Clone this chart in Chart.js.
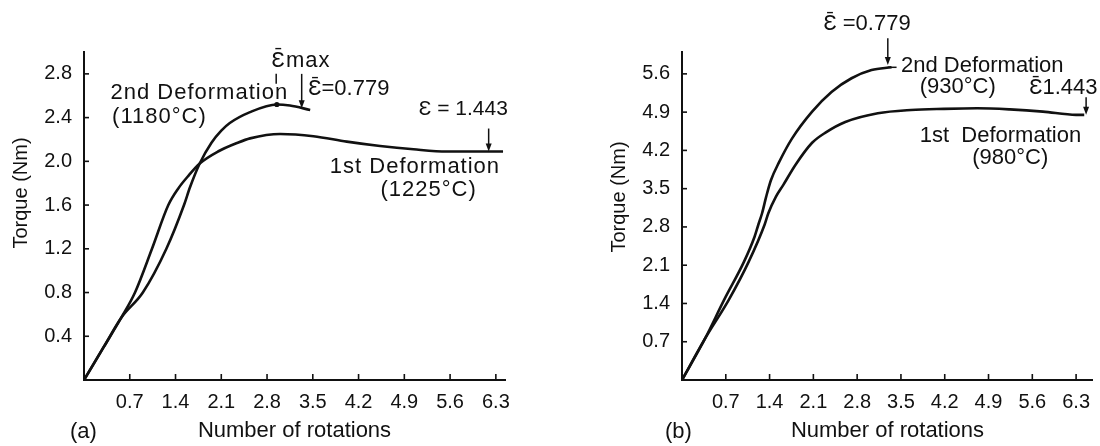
<!DOCTYPE html>
<html>
<head>
<meta charset="utf-8">
<title>Torque vs number of rotations</title>
<script src="https://cdn.jsdelivr.net/npm/chart.js@4.4.1/dist/chart.umd.min.js"></script>
<style>
  html, body { margin: 0; padding: 0; background: #fff; }
  #wrap { position: relative; width: 1100px; height: 446px; }
  #wrap canvas { position: absolute; top: 0; }
  #chart-a { left: 0; }
  #chart-b { left: 550px; }
</style>
</head>
<body>
<div id="wrap">
  <canvas id="chart-a" width="550" height="446"></canvas>
  <canvas id="chart-b" width="550" height="446"></canvas>
</div>
<script>
// --- data ---

// (a) 1st deformation, 1225°C
const aFirstRot    = [0, 0.3, 0.57, 0.78, 1.04, 1.29, 1.44, 1.6, 1.77, 2.05, 2.35, 2.54, 3.0, 3.51, 4.02, 4.53, 5.04, 5.55, 6.21, 6.41];
const aFirstTorque = [0, 0.3, 0.57, 0.8, 1.2, 1.6, 1.75, 1.87, 1.98, 2.09, 2.17, 2.21, 2.25, 2.23, 2.18, 2.14, 2.11, 2.09, 2.09, 2.09];

// (a) 2nd deformation, 1180°C
const aSecondRot    = [0, 0.3, 0.57, 0.9, 1.26, 1.53, 1.62, 1.77, 1.95, 2.1, 2.23, 2.54, 2.95, 3.15, 3.46];
const aSecondTorque = [0, 0.3, 0.57, 0.8, 1.2, 1.6, 1.76, 1.98, 2.17, 2.28, 2.35, 2.45, 2.52, 2.51, 2.47];

// (b) 1st deformation, 980°C
const bFirstRot    = [0, 0.37, 0.75, 1.065, 1.32, 1.38, 1.5, 1.62, 1.81, 2.08, 2.3, 2.61, 3.13, 3.66, 4.19, 4.72, 5.24, 5.77, 6.3, 6.43];
const bFirstTorque = [0, 0.76, 1.47, 2.16, 2.84, 3.05, 3.35, 3.57, 3.93, 4.34, 4.53, 4.72, 4.88, 4.94, 4.96, 4.97, 4.95, 4.91, 4.85, 4.85];

// (b) 2nd deformation, 930°C
const bSecondRot    = [0, 0.37, 0.675, 0.99, 1.16, 1.22, 1.28, 1.345, 1.42, 1.55, 1.76, 2.08, 2.39, 2.71, 3.03, 3.35];
const bSecondTorque = [0, 0.76, 1.47, 2.16, 2.62, 2.84, 3.05, 3.35, 3.65, 3.98, 4.42, 4.91, 5.27, 5.52, 5.67, 5.72];

// tick values and their printed labels
const rotTicks      = [0.7, 1.4, 2.1, 2.8, 3.5, 4.2, 4.9, 5.6, 6.3];
const rotLabels     = ['0.7', '1.4', '2.1', '2.8', '3.5', '4.2', '4.9', '5.6', '6.3'];
const aTorqueTicks  = [0.4, 0.8, 1.2, 1.6, 2.0, 2.4, 2.8];
const aTorqueLabels = ['0.4', '0.8', '1.2', '1.6', '2.0', '2.4', '2.8'];
const bTorqueTicks  = [0.7, 1.4, 2.1, 2.8, 3.5, 4.2, 4.9, 5.6];
const bTorqueLabels = ['0.7', '1.4', '2.1', '2.8', '3.5', '4.2', '4.9', '5.6'];

const INK = '#111';
const FONT = '"Liberation Sans", Arial, sans-serif';

Chart.defaults.font.family = FONT;
Chart.defaults.color = INK;

const toPoints = (xs, ys) => xs.map((x, i) => ({ x, y: ys[i] }));

// inward tick marks, y title, annotations, arrows
const notesPlugin = {
  id: 'notes',
  afterDatasetsDraw(chart, args, opts) {
    const { ctx } = chart;
    const xs = chart.scales.x;
    const ys = chart.scales.y;
    const px = v => xs.getPixelForValue(v);
    const py = v => ys.getPixelForValue(v);

    ctx.save();
    ctx.strokeStyle = INK;
    ctx.fillStyle = INK;
    ctx.lineCap = 'butt';

    // tick marks pointing into the plot
    ctx.lineWidth = 1.6;
    xs.ticks.forEach(t => {
      const p = px(t.value);
      ctx.beginPath(); ctx.moveTo(p, ys.bottom); ctx.lineTo(p, ys.bottom - 6); ctx.stroke();
    });
    ys.ticks.forEach(t => {
      const p = py(t.value);
      ctx.beginPath(); ctx.moveTo(xs.left, p); ctx.lineTo(xs.left + 5, p); ctx.stroke();
    });

    // arrows pointing down onto the curves
    ctx.lineWidth = 1.5;
    (opts.arrows || []).forEach(a => {
      const x = px(a.x), y1 = py(a.from), y2 = py(a.to);
      ctx.beginPath(); ctx.moveTo(x, y1); ctx.lineTo(x, y2 - 5); ctx.stroke();
      ctx.beginPath();
      ctx.moveTo(x - 3, y2 - 8); ctx.lineTo(x + 3, y2 - 8); ctx.lineTo(x, y2); ctx.closePath();
      ctx.fill();
    });

    // plain short strokes
    (opts.marks || []).forEach(m => {
      ctx.beginPath(); ctx.moveTo(px(m.x1), py(m.y1)); ctx.lineTo(px(m.x2), py(m.y2)); ctx.stroke();
    });

    (opts.dots || []).forEach(d => {
      ctx.beginPath(); ctx.arc(px(d.x), py(d.y), 2.6, 0, Math.PI * 2); ctx.fill();
    });

    // labels on the plot
    ctx.textBaseline = 'middle';
    (opts.texts || []).forEach(t => {
      ctx.font = (t.size || 22) + 'px ' + FONT;
      ctx.letterSpacing = t.spacing || opts.spacing || '0px';
      ctx.textAlign = t.align || 'left';
      ctx.fillText(t.text, px(t.x), py(t.y));
    });
    ctx.letterSpacing = '0px';
    ctx.font = '22px ' + FONT;

    // panel letter below the axis
    if (opts.panel) {
      ctx.textAlign = 'left';
      ctx.fillText(opts.panel.text, opts.panel.left, opts.panel.mid);
    }

    // rotated y title, placed where the figure has it
    if (opts.yTitle) {
      ctx.font = '20px ' + FONT;
      ctx.translate(opts.yTitle.cx, opts.yTitle.cy);
      ctx.rotate(-Math.PI / 2);
      ctx.textAlign = 'center';
      ctx.fillText(opts.yTitle.text, 0, 0);
    }
    ctx.restore();
  }
};

function makeChart(id, cfg) {
  const ctx = document.getElementById(id).getContext('2d');
  return new Chart(ctx, {
    type: 'line',
    data: {
      datasets: cfg.series.map(s => ({
        label: s.label,
        data: s.data,
        borderColor: INK,
        borderWidth: 2.6,
        pointRadius: 0,
        fill: false,
        cubicInterpolationMode: 'monotone'
      }))
    },
    options: {
      responsive: false,
      animation: false,
      layout: { padding: cfg.padding },
      plugins: {
        legend: { display: false },
        tooltip: { enabled: false },
        notes: cfg.notes
      },
      scales: {
        x: {
          type: 'linear',
          min: 0,
          max: cfg.xMax,
          afterBuildTicks: scale => { scale.ticks = rotTicks.map(v => ({ value: v })); },
          afterFit: scale => { scale.height = 66; },
          ticks: {
            autoSkip: false,
            maxRotation: 0,
            padding: 10,
            font: { size: 20 },
            callback: (v, i) => rotLabels[i]
          },
          grid: { drawOnChartArea: false, drawTicks: false },
          border: { display: true, color: INK, width: 2 },
          title: {
            display: true,
            text: 'Number of rotations',
            font: { size: 22 },
            padding: { top: 0, bottom: 2 }
          }
        },
        y: {
          type: 'linear',
          min: 0,
          max: cfg.yMax,
          afterBuildTicks: scale => { scale.ticks = cfg.yTicks.map(v => ({ value: v })); },
          afterFit: scale => { scale.width = cfg.yWidth; },
          ticks: {
            autoSkip: false,
            padding: 12,
            font: { size: 20 },
            callback: (v, i) => cfg.yLabels[i]
          },
          grid: { drawOnChartArea: false, drawTicks: false },
          border: { display: true, color: INK, width: 2 }
        }
      }
    },
    plugins: [notesPlugin]
  });
}

makeChart('chart-a', {
  xMax: 6.44,
  yMax: 3.0,
  yTicks: aTorqueTicks,
  yLabels: aTorqueLabels,
  yWidth: 84,
  padding: { left: 0, right: 45, top: 52, bottom: 0 },
  series: [
    { label: '1st Deformation (1225°C)', data: toPoints(aFirstRot, aFirstTorque) },
    { label: '2nd Deformation (1180°C)', data: toPoints(aSecondRot, aSecondTorque) }
  ],
  notes: {
    spacing: '1px',
    texts: [
      { text: '2nd Deformation', x: 0.405, y: 2.63 },
      { text: '(1180°C)', x: 0.43, y: 2.41 },
      { text: 'Ɛ̄max', x: 2.87, y: 2.92 },
      { text: 'Ɛ̄=0.779', x: 3.43, y: 2.66, spacing: '0px' },
      { text: 'Ɛ = 1.443', x: 5.12, y: 2.48, size: 21, spacing: '0px' },
      { text: '1st Deformation', x: 3.76, y: 1.945 },
      { text: '(1225°C)', x: 4.535, y: 1.74 }
    ],
    arrows: [
      { x: 3.33, from: 2.8, to: 2.485 },
      { x: 6.19, from: 2.3, to: 2.09 }
    ],
    marks: [
      { x1: 2.94, y1: 2.8, x2: 2.94, y2: 2.71 }
    ],
    dots: [
      { x: 2.95, y: 2.52 }
    ],
    panel: { text: '(a)', left: 70, mid: 432 },
    yTitle: { text: 'Torque (Nm)', cx: 21, cy: 193 }
  }
});

makeChart('chart-b', {
  xMax: 6.57,
  yMax: 6.0,
  yTicks: bTorqueTicks,
  yLabels: bTorqueLabels,
  yWidth: 132,
  padding: { left: 0, right: 0, top: 52, bottom: 0 },
  series: [
    { label: '1st Deformation (980°C)', data: toPoints(bFirstRot, bFirstTorque) },
    { label: '2nd Deformation (930°C)', data: toPoints(bSecondRot, bSecondTorque) }
  ],
  notes: {
    texts: [
      { text: 'Ɛ̄ =0.779', x: 2.26, y: 6.51 },
      { text: '2nd Deformation', x: 3.5, y: 5.74 },
      { text: '(930°C)', x: 3.8, y: 5.36 },
      { text: 'Ɛ̄1.443', x: 5.55, y: 5.34 },
      { text: '1st  Deformation', x: 3.8, y: 4.46 },
      { text: '(980°C)', x: 4.64, y: 4.06 }
    ],
    arrows: [
      { x: 3.29, from: 6.25, to: 5.76 },
      { x: 6.46, from: 5.17, to: 4.85 }
    ],
    marks: [
      { x1: 3.29, y1: 5.72, x2: 3.43, y2: 5.72 }
    ],
    dots: [],
    panel: { text: '(b)', left: 115, mid: 432 },
    yTitle: { text: 'Torque (Nm)', cx: 69, cy: 197 }
  }
});
</script>
</body>
</html>
